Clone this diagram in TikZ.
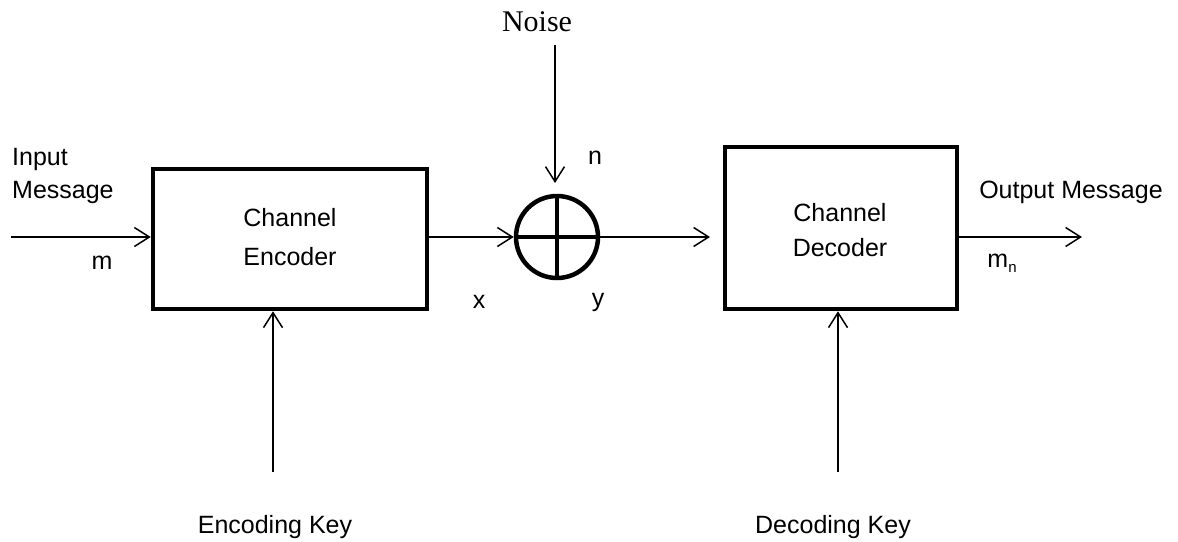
\documentclass[tikz,border=0pt]{standalone}
\usepackage{fontspec}
\setmainfont{Liberation Sans}
\newfontfamily\serifnoise{Liberation Serif}
\usetikzlibrary{arrows.meta}
\tikzset{
  blk/.style={draw, line width=4.5pt, rectangle, inner sep=0pt},
  lbl/.style={inner sep=0pt, font=\fontsize{25}{25}\selectfont},
  conn/.style={line width=1.5pt, -{Straight Barb[length=15pt,width=19pt,line width=1.5pt]}},
}
\begin{document}
\begin{tikzpicture}[x=1pt,y=-1pt]
\useasboundingbox (0,0) rectangle (1178,541);
% blocks
\node[blk, minimum width=274pt, minimum height=140pt] (enc) at (290,239) {};
\node[blk, minimum width=232pt, minimum height=162pt] (dec) at (841,228) {};
\node[draw, circle, line width=4.5pt, minimum size=82pt, inner sep=0pt] (sum) at (557,237) {};
\draw[line width=4pt] (sum.north) -- (sum.south);
\draw[line width=4pt] (sum.west) -- (sum.east);
% block texts
\node[lbl, align=center] (enct) at (290,237) {Channel\\[14pt]Encoder};
\node[lbl, align=center] (dect) at (840,230) {Channel\\[10pt]Decoder};
% free ends
\coordinate (inp) at (11,237);
\coordinate (ychan) at (710,237);
\coordinate (outp) at (1082,237);
\coordinate (ntop) at (555,45);
\coordinate (nend) at (555,183);
\coordinate (ek) at (273,472);
\coordinate (dk) at (838,472);
% connectors
\draw[conn] (inp) -- (inp -| enc.west);
\draw[conn] (inp -| enc.east) -- (sum.west);
\draw[conn] (sum.east) -- (ychan);
\draw[conn] (dec.east |- outp) -- (outp);
\draw[conn] (ntop) -- (nend);
\draw[conn] (ek) -- (ek |- enc.south);
\draw[conn] (dk) -- (dk |- dec.south);
% labels
\node[lbl, anchor=base west] (inlbl1) at (12,165) {Input};
\node[lbl, anchor=base west] (inlbl2) at (12,198) {Message};
\node[lbl] (mlbl) at (102,263) {m};
\node[inner sep=0pt, font=\serifnoise\fontsize{30}{30}\selectfont] (noise) at (537,22) {Noise};
\node[lbl] (nlbl) at (595,158) {n};
\node[lbl] (xlbl) at (479,302) {x};
\node[lbl] (ylbl) at (598,302) {y};
\node[lbl] (outlbl) at (1071,192) {Output Message};
\node[lbl] (mnlbl) at (1002,263) {m{\fontsize{15}{15}\selectfont\raisebox{-5pt}{n}}};
\node[lbl] (eklbl) at (275,527) {Encoding Key};
\node[lbl] (dklbl) at (833,527) {Decoding Key};
\end{tikzpicture}
\end{document}
